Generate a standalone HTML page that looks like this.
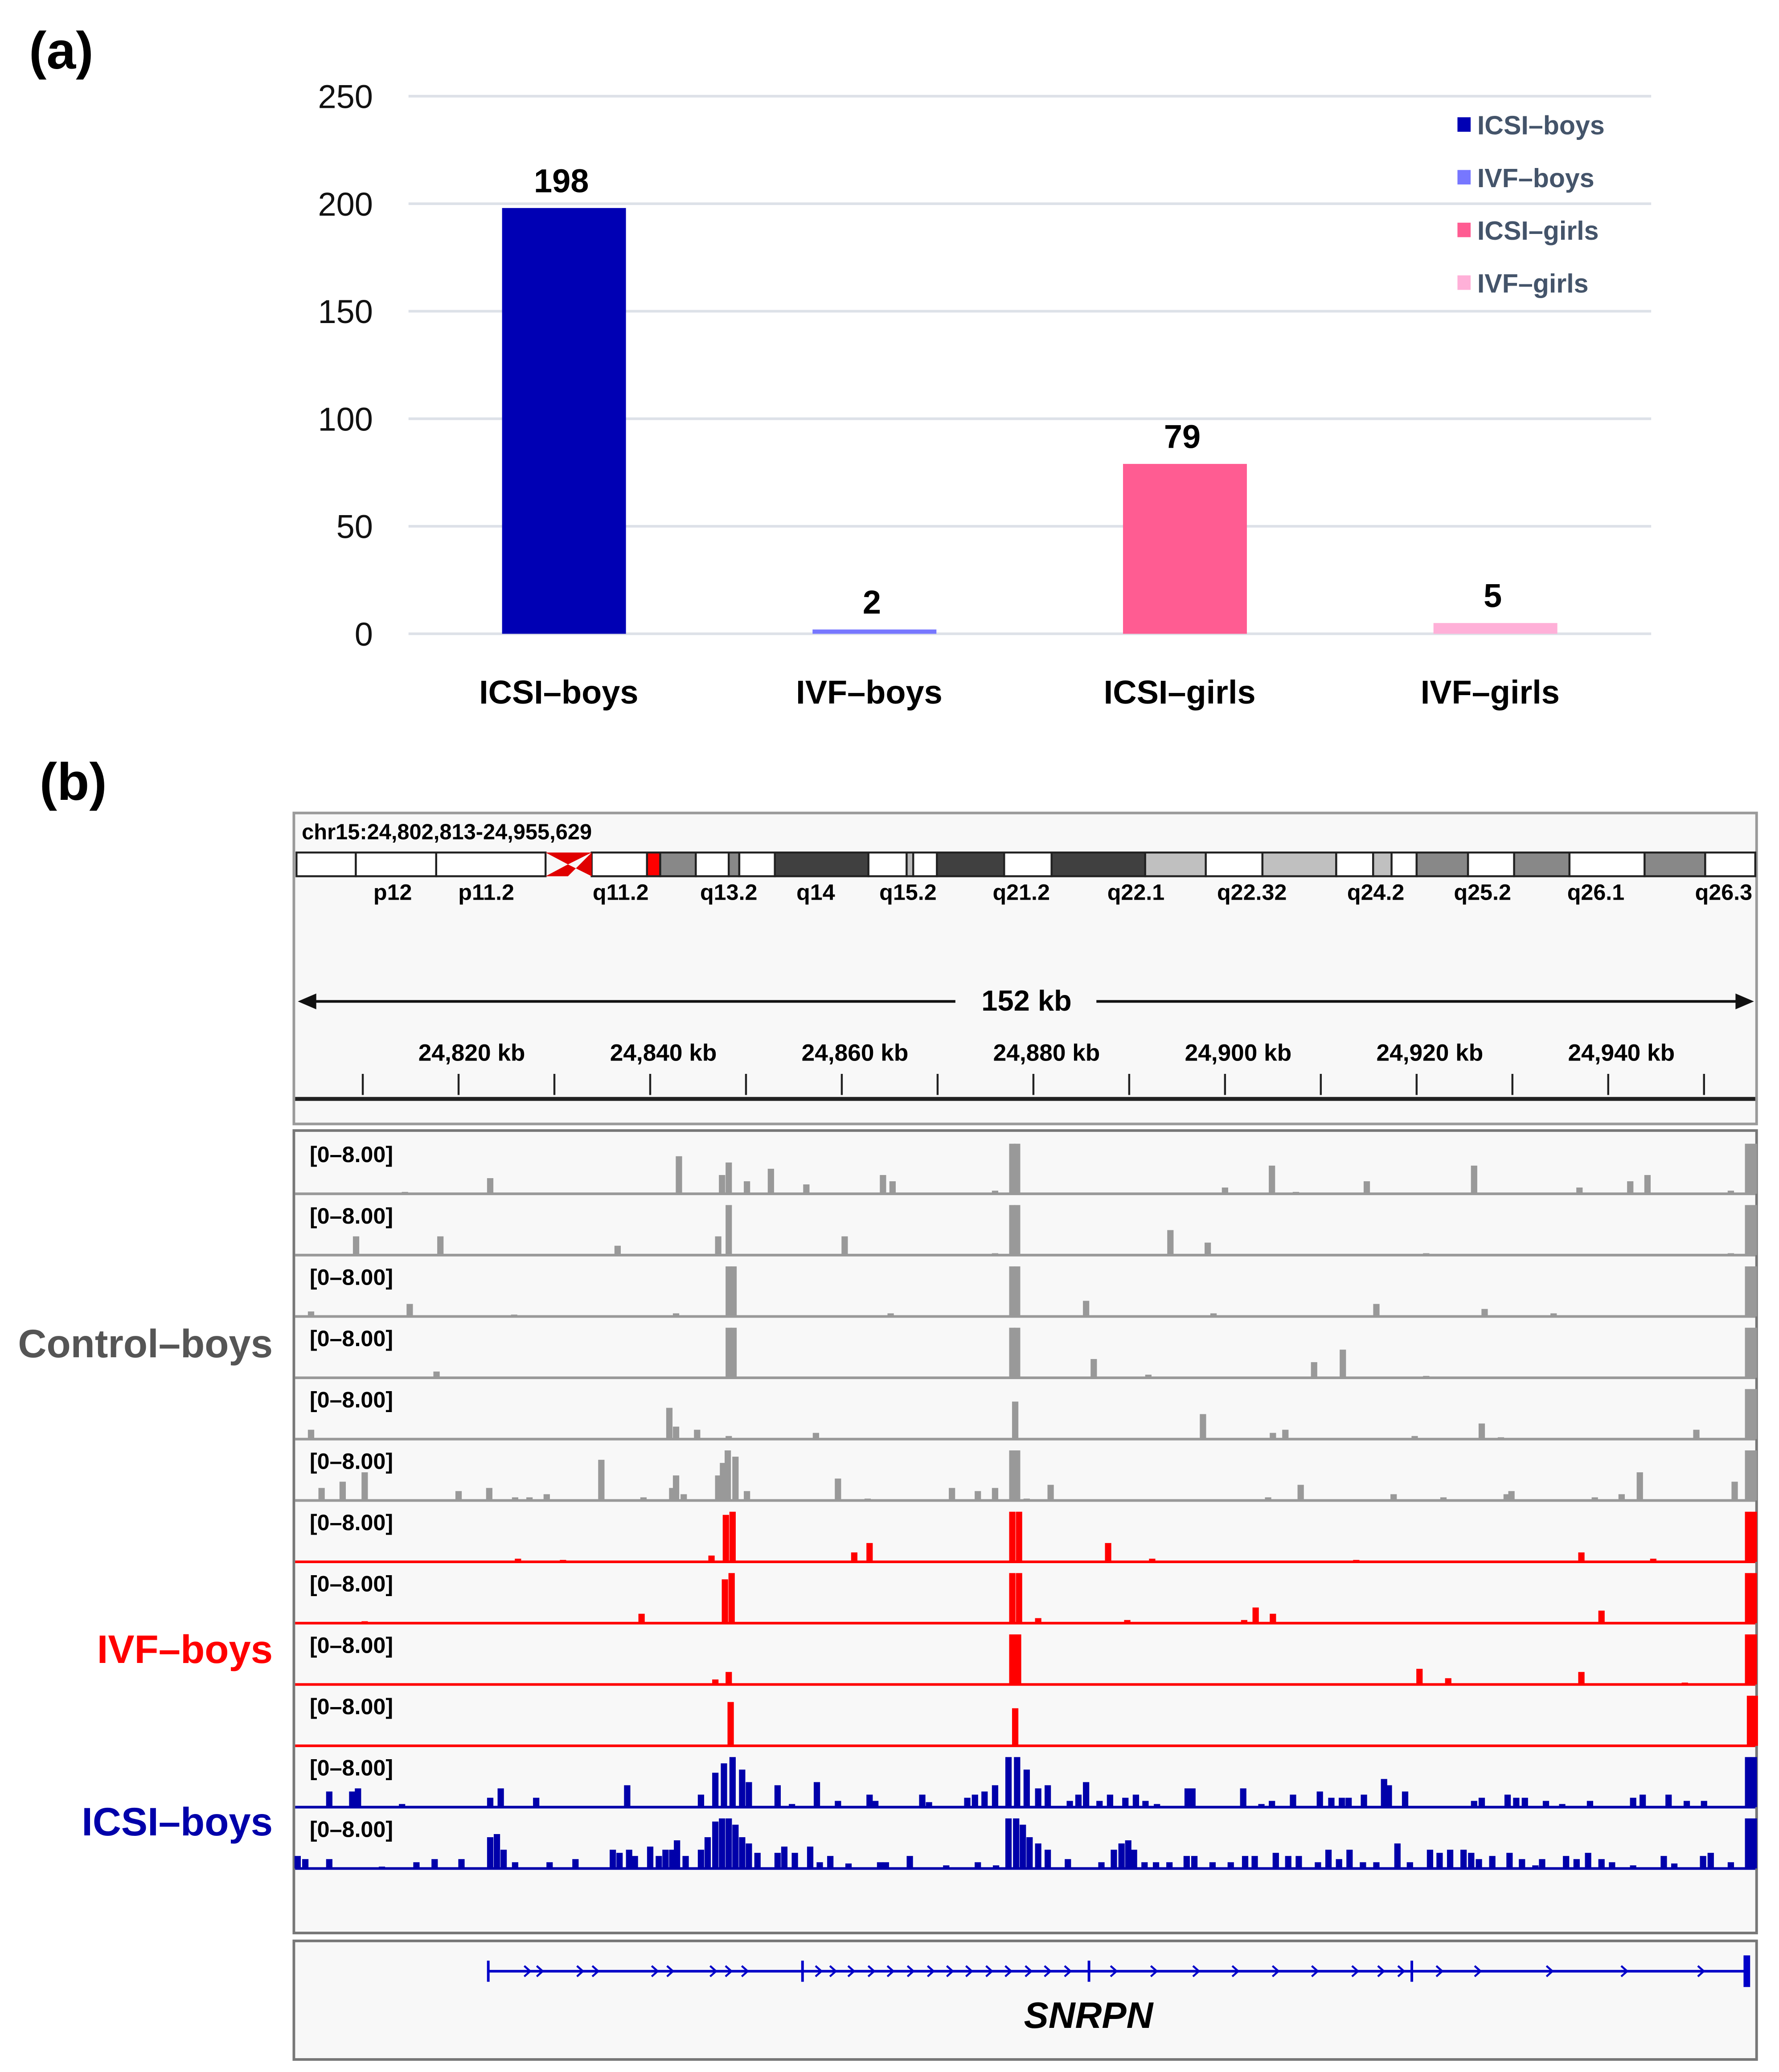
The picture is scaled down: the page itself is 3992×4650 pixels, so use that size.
<!DOCTYPE html>
<html><head><meta charset="utf-8"><style>
html,body{margin:0;padding:0;background:#fff}
svg{display:block}
text{font-family:"Liberation Sans",Arial,sans-serif}
</style></head><body>
<svg id="fig" width="3992" height="4650" viewBox="0 0 1350 1572.5" preserveAspectRatio="none" xmlns="http://www.w3.org/2000/svg">
<rect x="0" y="0" width="1350" height="1572.5" fill="#fff"/>
<text x="22" y="52" font-size="40" font-weight="bold">(a)</text>
<g id="barchart"></g>
<text x="30" y="607" font-size="40" font-weight="bold">(b)</text>
<g id="igv"></g>
</svg>
<script>
// ---------- Panel (a) data ----------
const categories = ["ICSI\u2013boys","IVF\u2013boys","ICSI\u2013girls","IVF\u2013girls"];
const values = [198, 2, 79, 5];
const barColors = ["#0000b4","#7777ff","#ff5c92","#ffb0d8"];
const yTicks = [0, 50, 100, 150, 200, 250];

// ---------- Panel (b) data: genomic coverage peaks [kb, height 0-8] ----------
const rulerTicksKb = [24810,24820,24830,24840,24850,24860,24870,24880,24890,24900,24910,24920,24930,24940,24950];
const rulerLabelsKb = [24820,24840,24860,24880,24900,24920,24940];
const ctrl1 = [[24814.4,0.3],[24823.3,2.5],[24843.0,6],[24847.5,3],[24848.2,5],[24850.1,2],[24852.6,4],[24856.3,1.5],[24864.3,3],[24865.3,2],[24876.0,0.5],[24877.8,8],[24878.3,8],[24900.0,1],[24904.9,4.5],[24907.4,0.3],[24914.8,2],[24926.0,4.5],[24937.0,1],[24942.3,2],[24944.1,3],[24952.8,0.5],[24954.6,8],[24955.2,8]];
const ctrl2 = [[24809.3,3],[24818.1,3],[24836.6,1.5],[24847.1,3],[24848.2,8],[24860.3,3],[24876.0,0.3],[24877.8,8],[24878.3,8],[24894.3,4],[24898.2,2],[24921.0,0.3],[24952.8,0.3],[24954.6,8],[24955.2,8]];
const ctrl3 = [[24804.6,0.8],[24814.9,2],[24825.8,0.3],[24842.7,0.5],[24848.2,8],[24848.7,8],[24865.1,0.5],[24877.8,8],[24878.3,8],[24885.5,2.5],[24898.8,0.5],[24915.8,2],[24927.1,1.2],[24934.3,0.5],[24954.6,8],[24955.2,8]];
const ctrl4 = [[24817.7,1],[24848.2,8],[24848.7,8],[24877.8,8],[24878.3,8],[24886.3,3],[24892.0,0.5],[24909.3,2.5],[24912.3,4.5],[24921.0,0.3],[24954.6,8],[24955.2,8]];
const ctrl5 = [[24804.6,1.5],[24842.0,5],[24842.7,2],[24844.9,1.5],[24848.2,0.5],[24857.3,1],[24878.1,6],[24897.7,4],[24905.0,1],[24906.3,1.5],[24919.8,0.5],[24926.8,2.5],[24928.8,0.3],[24949.2,1.5],[24954.6,8],[24955.2,8]];
const ctrl6 = [[24805.7,2],[24807.9,3],[24810.2,4.5],[24820.0,1.5],[24823.2,2],[24825.9,0.5],[24827.4,0.5],[24829.2,1],[24834.9,6.5],[24839.3,0.5],[24842.3,2],[24842.7,4],[24843.5,1],[24847.1,4],[24847.6,6],[24848.1,8],[24848.9,7],[24850.1,1.5],[24859.6,3.5],[24862.7,0.3],[24871.5,2],[24874.2,1.5],[24876.0,2],[24877.8,8],[24878.3,8],[24879.3,0.3],[24881.8,2.5],[24904.5,0.5],[24907.9,2.5],[24917.6,1],[24922.8,0.5],[24929.4,1],[24929.9,1.5],[24938.6,0.5],[24941.4,1],[24943.3,4.5],[24953.2,3],[24954.6,8],[24955.2,8]];
const ivf1 = [[24826.2,0.5],[24830.9,0.3],[24846.4,1],[24847.9,7.5],[24848.6,8],[24861.3,1.5],[24862.9,3],[24877.8,8],[24878.5,8],[24887.8,3],[24892.4,0.5],[24913.7,0.3],[24937.2,1.5],[24944.7,0.5],[24954.6,8],[24955.2,8]];
const ivf2 = [[24810.2,0.3],[24839.1,1.5],[24847.8,7],[24848.5,8],[24877.8,8],[24878.5,8],[24880.5,0.8],[24889.8,0.5],[24902.0,0.5],[24903.2,2.5],[24905.0,1.5],[24939.3,2],[24954.6,8],[24955.2,8]];
const ivf3 = [[24846.8,0.8],[24848.2,2],[24877.8,8],[24878.4,8],[24920.3,2.5],[24923.3,1],[24937.2,2],[24948.0,0.3],[24954.6,8],[24955.2,8]];
const ivf4 = [[24848.4,7],[24878.1,6],[24954.8,8],[24955.3,8]];
const icsi1 = [[24806.5,2.5],[24808.9,2.5],[24809.5,3],[24814.1,0.5],[24823.3,1.5],[24824.4,3],[24828.1,1.5],[24837.6,3.5],[24845.3,2],[24846.8,5.5],[24847.7,7],[24848.6,8],[24849.6,6],[24850.3,4],[24853.3,3.5],[24854.8,0.5],[24857.4,4],[24859.6,1],[24862.9,2],[24863.5,1],[24868.4,2],[24869.1,0.8],[24873.1,1.5],[24873.9,2],[24874.9,2.5],[24876.0,3.5],[24877.4,8],[24878.3,8],[24879.3,6],[24880.5,3],[24881.5,3.5],[24883.8,1],[24884.7,2],[24885.5,4],[24886.9,1],[24888.0,2],[24889.6,1.5],[24890.7,2],[24891.7,1],[24892.9,0.5],[24896.1,3],[24896.6,3],[24901.9,3],[24903.8,0.5],[24904.9,1],[24907.1,2],[24909.9,2.5],[24911.1,1.5],[24912.2,1.5],[24912.9,1.5],[24914.5,2],[24916.6,4.5],[24917.1,3.5],[24918.8,2.5],[24926.0,1],[24926.8,1.5],[24929.5,2],[24930.4,1.5],[24931.3,1.5],[24933.5,1],[24935.2,0.5],[24938.1,1],[24942.6,1.5],[24943.6,2],[24946.3,2],[24948.2,1],[24950.0,1],[24954.6,8],[24955.2,8]];
const icsi2 = [[24803.2,2],[24804.0,1.5],[24806.5,1.5],[24812.0,0.3],[24815.6,1],[24817.5,1.5],[24820.3,1.5],[24823.3,5],[24824.0,5.5],[24824.7,3],[24825.9,1],[24829.5,1],[24832.2,1.5],[24836.1,3],[24836.8,2.5],[24837.8,3],[24838.4,2],[24840.0,3.5],[24840.9,2],[24841.6,3],[24842.3,3],[24842.8,4.5],[24843.7,2],[24845.3,3],[24846.0,5],[24846.8,7.5],[24847.5,8],[24848.2,8],[24848.9,7],[24849.6,5],[24850.3,4],[24851.2,2.5],[24853.3,2.5],[24854.0,3.5],[24855.1,2.5],[24856.7,3.5],[24857.7,1],[24858.8,2],[24860.7,0.8],[24864.0,1],[24864.6,1],[24867.1,2],[24870.9,0.5],[24874.2,1],[24876.1,0.5],[24877.4,8],[24878.2,8],[24878.9,7],[24879.6,5],[24880.5,4],[24881.5,3],[24883.6,1.5],[24887.1,1],[24888.4,3],[24889.2,4],[24889.9,4.5],[24890.5,3],[24891.6,1],[24892.8,1],[24894.2,1],[24896.0,2],[24896.8,2],[24898.7,1],[24900.6,1],[24902.1,2],[24903.1,2],[24905.3,2.5],[24906.6,2],[24907.7,2],[24909.7,1],[24910.8,3],[24911.9,1.5],[24913.0,3],[24914.4,1],[24915.8,1],[24918.0,4],[24919.3,1],[24921.4,3],[24922.4,2.5],[24923.5,3],[24924.9,3],[24925.7,2.5],[24926.5,1.5],[24927.9,2],[24929.7,2.5],[24931.0,1.5],[24932.4,0.5],[24933.1,1.5],[24935.6,2],[24936.7,1.5],[24937.9,2.5],[24939.3,1.5],[24940.4,1],[24942.6,0.5],[24945.8,2],[24946.9,0.8],[24949.9,2],[24950.7,2.5],[24952.8,1],[24954.6,8],[24955.2,8]];
const geneExonsKb = [24823.1, 24855.9, 24885.8, 24919.5, 24954.4];
const geneChevronsKb = [24827.2,24828.5,24832.7,24834.3,24840.5,24842.1,24846.6,24848.2,24849.9,24857.6,24859.1,24861.0,24863.1,24865.1,24867.2,24869.3,24871.3,24873.3,24875.4,24877.4,24879.5,24881.5,24883.6,24888.4,24892.6,24897.0,24901.1,24905.3,24909.4,24913.6,24916.3,24918.4,24922.4,24926.4,24933.9,24941.7,24949.7];

const SVGNS = "http://www.w3.org/2000/svg";
function mk(tag, attrs, parent){const e=document.createElementNS(SVGNS,tag);for(const k in attrs)e.setAttribute(k,attrs[k]);parent.appendChild(e);return e;}

// ---------- Draw panel (a) ----------
const bc = document.getElementById('barchart');
const y0 = 481, yPerUnit = 408/250;
const yScale = v => y0 - v*yPerUnit;
const xBand = i => 428 + i*235.6;
yTicks.forEach(t=>{
  const g = mk('line',{x1:310,x2:1253,y1:yScale(t),y2:yScale(t),stroke:'#dde1e8','stroke-width':2},bc);
  
  
  const tx = mk('text',{x:283,y:yScale(t)+9,'font-size':25,'text-anchor':'end',fill:'#111'},bc);
  tx.textContent=t;
  
  
});
values.forEach((v,i)=>{
  const r = mk('rect',{x:xBand(i)-47,y:yScale(v),width:94,height:v*yPerUnit,fill:barColors[i]},bc);
  
  
  const vl = mk('text',{x:xBand(i)-2,y:yScale(v)-12,'font-size':25,'font-weight':'bold','text-anchor':'middle'},bc);
  vl.textContent=v;
  
  
  const xl = mk('text',{x:xBand(i)-4,y:534,'font-size':25,'font-weight':'bold','text-anchor':'middle'},bc);
  xl.textContent=categories[i];
  
  
  const ls = mk('rect',{x:1106,y:89+i*40,width:10,height:11,fill:barColors[i]},bc);
  
  
  const lt = mk('text',{x:1121,y:102+i*40,'font-size':20,'font-weight':'bold',fill:'#44546a'},bc);
  lt.textContent=categories[i];
  
  
});

// ---------- Draw panel (b) ----------
const ig = document.getElementById('igv');
const kbX = kb => 348 + (kb-24820)*7.27;
let e;
e = mk('rect',{x:223,y:617,width:1110,height:236,fill:'#f8f8f8',stroke:'#9a9a9a','stroke-width':2},ig);
 
e = mk('rect',{x:223,y:858,width:1110,height:609,fill:'#f8f8f8',stroke:'#777','stroke-width':2},ig);
 
e = mk('rect',{x:223,y:1473,width:1110,height:90,fill:'#f8f8f8',stroke:'#777','stroke-width':2},ig);
 
e = mk('text',{x:229,y:637,'font-size':16.5,'font-weight':'bold'},ig);
e.textContent='chr15:24,802,813-24,955,629';
 

// ideogram bands [x1,x2,color]
const bands=[[225,270,'#fff'],[270,331,'#fff'],[331,414,'#fff'],[449,491,'#fff'],[491,501,'#f00'],[501,528,'#888'],[528,553,'#fff'],[553,561,'#888'],[561,588,'#fff'],[588,659,'#404040'],[659,688,'#fff'],[688,693,'#bbb'],[693,711,'#fff'],[711,762,'#404040'],[762,798,'#fff'],[798,869,'#404040'],[869,915,'#c0c0c0'],[915,958,'#fff'],[958,1014,'#c0c0c0'],[1014,1042,'#fff'],[1042,1056,'#c0c0c0'],[1056,1075,'#fff'],[1075,1114,'#888'],[1114,1149,'#fff'],[1149,1191,'#888'],[1191,1248,'#fff'],[1248,1294,'#888'],[1294,1332,'#fff']];
bands.forEach(b=>{
  e = mk('rect',{x:b[0],y:647,width:b[1]-b[0],height:18,fill:b[2],stroke:'#222','stroke-width':1.5},ig);
   
});
e = mk('polygon',{points:'414,647 431,656 414,665 431,665 449,647 449,665 431,656 449,647',fill:'#e00000'},ig);
 
const bandLabels=[['p12',298],['p11.2',369],['q11.2',471],['q13.2',553],['q14',619],['q15.2',689],['q21.2',775],['q22.1',862],['q22.32',950],['q24.2',1044],['q25.2',1125],['q26.1',1211],['q26.3',1308]];
bandLabels.forEach(l=>{
  e = mk('text',{x:l[1],y:683,'font-size':17,'font-weight':'bold','text-anchor':'middle'},ig);
  e.textContent=l[0];
   
});
// 152 kb arrow
e = mk('line',{x1:230,x2:725,y1:760,y2:760,stroke:'#111','stroke-width':2},ig);
 
e = mk('line',{x1:832,x2:1326,y1:760,y2:760,stroke:'#111','stroke-width':2},ig);
 
e = mk('polygon',{points:'226,760 240,754 240,766',fill:'#111'},ig);
 
e = mk('polygon',{points:'1331,760 1317,754 1317,766',fill:'#111'},ig);
 
e = mk('text',{x:779,y:767,'font-size':22,'font-weight':'bold','text-anchor':'middle'},ig);
e.textContent='152 kb';
 
rulerTicksKb.forEach(k=>{
  e = mk('line',{x1:kbX(k),x2:kbX(k),y1:815,y2:831,stroke:'#222','stroke-width':1.5},ig);
   
});
rulerLabelsKb.forEach(k=>{
  e = mk('text',{x:kbX(k)+10,y:805,'font-size':18,'font-weight':'bold','text-anchor':'middle'},ig);
  e.textContent=(k/1000).toFixed(3).replace('.',',')+' kb';
   
});
e = mk('line',{x1:224,x2:1332,y1:834,y2:834,stroke:'#222','stroke-width':3},ig);
 

// tracks
const tracks=[ctrl1,ctrl2,ctrl3,ctrl4,ctrl5,ctrl6,ivf1,ivf2,ivf3,ivf4,icsi1,icsi2];
const trackColors=['#999','#999','#999','#999','#999','#999','#f00','#f00','#f00','#f00','#0000aa','#0000aa'];
const hScale = 38/8;
tracks.forEach((tr,i)=>{
  const base = 906 + i*46.55;
  const g = mk('g',{},ig);
  
  
  tr.forEach(p=>{
    const r = mk('rect',{x:kbX(p[0])-2.4,y:base-p[1]*hScale,width:4.8,height:p[1]*hScale,fill:trackColors[i]},g);
    
    
  });
  const bl = mk('line',{x1:224,x2:1332,y1:base,y2:base,stroke:trackColors[i],'stroke-width':2},g);
  
  
  const lb = mk('text',{x:235,y:base-24,'font-size':17,'font-weight':'bold'},g);
  lb.textContent='[0\u20138.00]';
  
  
});
const groups=[['Control\u2013boys',1030,'#555'],['IVF\u2013boys',1262,'#f00'],['ICSI\u2013boys',1393,'#0000aa']];
groups.forEach(gp=>{
  e = mk('text',{x:207,y:gp[1],'font-size':30,'font-weight':'bold','text-anchor':'end',fill:gp[2]},ig);
  e.textContent=gp[0];
   
});

// gene
e = mk('line',{x1:kbX(24823.1),x2:kbX(24954.6),y1:1496,y2:1496,stroke:'#0000c8','stroke-width':2},ig);
 
geneExonsKb.forEach(k=>{
  e = mk('line',{x1:kbX(k),x2:kbX(k),y1:1488,y2:1504,stroke:'#0000c8','stroke-width':2},ig);
   
});
e = mk('rect',{x:kbX(24954.4)-2,y:1484,width:5,height:24,fill:'#0000c8'},ig);
 
geneChevronsKb.forEach(k=>{
  e = mk('polyline',{points:`${kbX(k)-2.5},1492 ${kbX(k)+2},1496 ${kbX(k)-2.5},1500`,fill:'none',stroke:'#0000c8','stroke-width':1.5},ig);
   
});
e = mk('text',{x:826,y:1539,'font-size':28,'font-weight':'bold','font-style':'italic','text-anchor':'middle'},ig);
e.textContent='SNRPN';
 
</script>
</body></html>
